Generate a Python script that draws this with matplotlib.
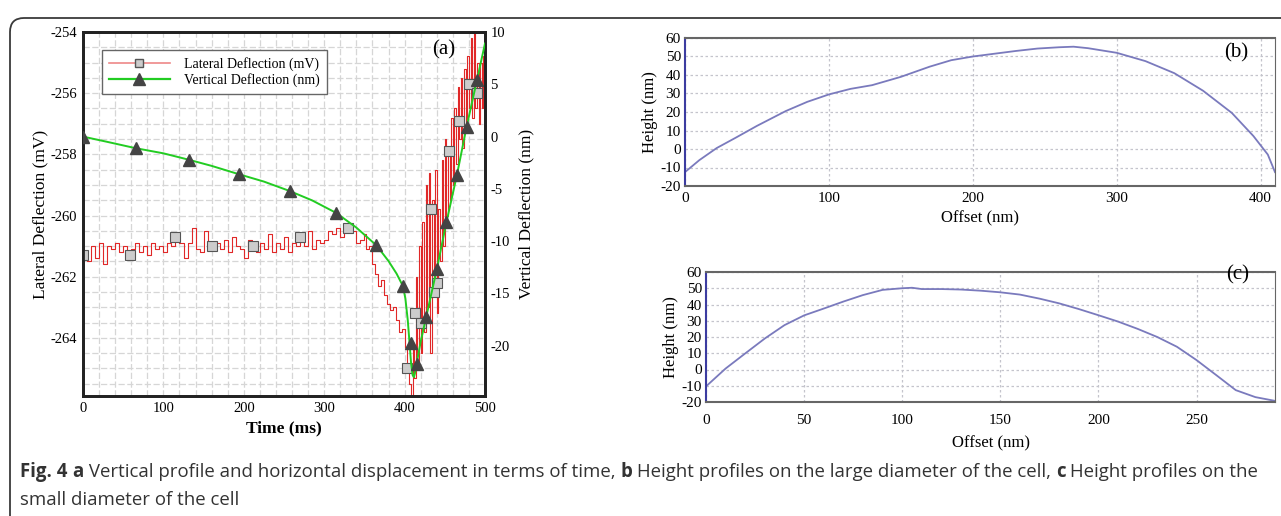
import numpy as np
import matplotlib
matplotlib.use("Agg")
import matplotlib.pyplot as plt
from matplotlib.patches import FancyBboxPatch
from matplotlib.lines import Line2D

plt.rcParams['axes.unicode_minus'] = False
SERIF = ['Liberation Serif', 'DejaVu Serif']
CAP_FONT = ['Open Sans', 'DejaVu Sans']

# ----------- PANEL (a) DATA -----------
# lateral deflection (mV): flat noisy part, step-like drop, spiky recovery
lat_t_flat = np.arange(0, 341, 5)
lat_mv_flat = [-261.3, -261.5, -261.0, -261.4, -260.9, -261.6, -261.0, -261.1, -260.9, -261.2,
               -261.0, -261.3, -261.1, -260.9, -261.2, -261.0, -261.3, -260.9, -261.1, -261.0,
               -261.2, -260.9, -261.0, -260.7, -260.9, -261.4, -260.9, -260.4, -261.1, -261.2,
               -260.5, -261.1, -261.0, -260.9, -261.1, -260.8, -261.2, -260.7, -261.0, -261.1,
               -261.4, -260.8, -261.0, -261.2, -260.9, -261.1, -260.6, -261.2, -260.9, -261.1,
               -260.7, -261.2, -260.9, -261.0, -260.7, -261.0, -260.5, -261.1, -260.8, -260.9,
               -260.8, -260.5, -260.6, -260.4, -260.7, -260.5, -260.4, -260.5, -260.9]
lat_t_drop = [345, 349, 352, 356, 360, 363, 367, 371, 374, 378, 382, 386, 389, 393, 397, 400, 403, 406]
lat_mv_drop = [-260.8, -260.6, -261.1, -261.0, -261.6, -261.9, -262.3, -262.1, -262.6, -262.9,
               -263.1, -263.0, -263.4, -263.8, -263.7, -264.3, -265.0, -265.5]
lat_t_rise = np.arange(408, 501, 2)
lat_mv_rise = [-265.9, -264.2, -265.3, -262.0, -264.8, -261.0, -264.5, -260.2, -263.8, -259.0,
               -263.0, -258.6, -264.5, -259.5, -262.0, -258.5, -263.2, -259.8, -261.5, -258.2,
               -261.0, -257.5, -260.0, -257.8, -259.5, -256.8, -259.0, -256.5, -258.3, -255.8,
               -257.5, -255.5, -257.8, -255.2, -257.0, -254.8, -256.5, -254.2, -256.8, -254.0,
               -256.5, -255.0, -257.0, -255.0, -256.5, -254.8, -255.5]

lat_mk_t = [0, 58, 115, 161, 211, 270, 330, 403, 413, 420, 433, 436, 440, 455, 468, 480, 490]
lat_mk_mv = [-261.3, -261.3, -260.7, -261.0, -261.0, -260.7, -260.4, -265.0, -263.2, -263.5,
             -259.8, -262.5, -262.2, -257.9, -256.9, -255.7, -256.0]

# vertical deflection (nm)
vert_t = [0, 30, 65, 100, 131, 160, 194, 225, 257, 285, 315, 340, 365, 380, 390, 398,
          401, 404, 406, 408, 410, 411.5, 413, 415, 420, 427, 440, 452, 465, 477, 490, 500]
vert_nm = [0, -0.5, -1.1, -1.6, -2.2, -2.8, -3.6, -4.3, -5.2, -6.1, -7.3, -8.7, -10.4, -11.9,
           -13.1, -14.3, -15.5, -17.6, -19.6, -21.6, -22.8, -23.0, -22.6, -21.7, -19.6, -17.2,
           -12.7, -8.2, -3.7, 0.9, 5.4, 8.9]
vert_mk_t = [0, 66, 132, 194, 257, 315, 365, 398, 408, 415, 427, 440, 452, 465, 477, 490]
vert_mk_nm = [0, -1.1, -2.2, -3.6, -5.2, -7.3, -10.4, -14.3, -19.7, -21.7, -17.2, -12.7,
              -8.2, -3.7, 0.9, 5.4]

# ----------- PANEL (b) / (c) DATA -----------
b_offset = [0, 10, 22, 35, 50, 70, 85, 100, 115, 130, 150, 170, 185, 200, 215, 230, 245,
            260, 270, 280, 300, 320, 340, 360, 380, 395, 405, 410]
b_height = [-12.5, -6, 0.5, 6, 12.5, 20.5, 25.5, 29.5, 32.5, 34.5, 39, 44.5, 48, 50, 51.5,
            53, 54.3, 55, 55.3, 54.5, 52, 47.5, 41, 31.5, 19.5, 7, -3, -12.5]

c_offset = [0, 10, 20, 30, 40, 50, 60, 70, 80, 90, 100, 105, 110, 120, 130, 140, 150, 160,
            170, 180, 190, 200, 210, 220, 230, 240, 250, 260, 270, 280, 290]
c_height = [-10.4, 0.6, 9.9, 19.1, 27.3, 33.3, 37.5, 41.8, 45.8, 49.0, 50.0, 50.3, 49.5,
            49.5, 49.2, 48.5, 47.5, 46.1, 43.6, 40.7, 37.2, 33.4, 29.5, 25.0, 20.0, 14.0,
            5.8, -3.4, -12.7, -17.0, -19.3]

caption_l1 = [("Fig. 4 ", "bold"), ("a", "bold"),
              (" Vertical profile and horizontal displacement in terms of time, ", "normal"),
              ("b", "bold"), (" Height profiles on the large diameter of the cell, ", "normal"),
              ("c", "bold"), (" Height profiles on the", "normal")]
caption_l2 = "small diameter of the cell"

# ----------- FIGURE -----------
W, H = 1281, 516
fig = plt.figure(figsize=(W / 100, H / 100), dpi=100)

def px_axes(x0, y0, x1, y1):
    return fig.add_axes([x0 / W, 1 - y1 / H, (x1 - x0) / W, (y1 - y0) / H])

# outer rounded frame
frame = FancyBboxPatch((0.10, -1.0), 14.0, (H - 18) / 100 + 1.0,
                       boxstyle="round,pad=0,rounding_size=0.14",
                       transform=fig.dpi_scale_trans, fc="none", ec="#3a3a3a", lw=1.3)
fig.patches.append(frame)

# ---- (a) ----
ax = px_axes(83, 32, 485, 396)
ax.set_xlim(0, 500)
ax.set_ylim(-265.9, -254)
ax.set_xticks(np.arange(0, 501, 100))
ax.set_xticks(np.arange(0, 501, 20), minor=True)
ax.set_yticks(np.arange(-264, -253, 2))
ax.set_yticks(np.arange(-265.5, -253.9, 0.5), minor=True)
ax.grid(True, which="both", color="#d6d6d6", lw=0.9, ls=(0, (5, 2)))
ax.set_axisbelow(True)

lat_t = np.concatenate([lat_t_flat, lat_t_drop, lat_t_rise])
lat_mv = np.concatenate([lat_mv_flat, lat_mv_drop, lat_mv_rise])
ax.plot(lat_t, lat_mv, color="#e02828", lw=0.8, drawstyle="steps-post", zorder=2)
ax.plot(lat_mk_t, lat_mk_mv, ls="none", marker="s", ms=7, mfc="#cccccc", mec="#555555",
        mew=0.8, zorder=4)

ax2 = ax.twinx()
ax2.set_ylim(-24.8, 10)
ax2.set_yticks(np.arange(-20, 11, 5))
ax2.plot(vert_t, vert_nm, color="#22cc22", lw=1.4, zorder=3)
ax2.plot(vert_mk_t, vert_mk_nm, ls="none", marker="^", ms=9, mfc="#444444", mec="#444444",
         zorder=5)

for a in (ax, ax2):
    for s in a.spines.values():
        s.set_linewidth(2.0)
        s.set_color("#222222")
    a.tick_params(which="both", length=0, labelsize=10.5, pad=4)
    for lb in a.get_xticklabels() + a.get_yticklabels():
        lb.set_family(SERIF)

ax.set_xlabel("Time (ms)", family=SERIF, fontsize=12.5, fontweight="bold", labelpad=4)
ax.set_ylabel("Lateral Deflection (mV)", family=SERIF, fontsize=12.5, labelpad=2)
ax2.set_ylabel("Vertical Deflection (nm)", family=SERIF, fontsize=12.5, labelpad=6)
ax.text(0.898, 0.95, "(a)", transform=ax.transAxes, family=SERIF, fontsize=15,
        ha="center", va="center")

handles = [Line2D([], [], color="#ee8888", lw=1.2, marker="s", ms=6, mfc="#cccccc",
                  mec="#555555"),
           Line2D([], [], color="#22cc22", lw=1.6, marker="^", ms=8, mfc="#444444",
                  mec="#444444")]
leg = ax.legend(handles, ["Lateral Deflection (mV)", "Vertical Deflection (nm)"],
                loc="upper left", bbox_to_anchor=(0.047, 0.951), borderaxespad=0,
                handlelength=4.4, prop={"family": SERIF, "size": 10}, fancybox=False,
                framealpha=1, edgecolor="#666666", borderpad=0.5, labelspacing=0.15,
                handletextpad=1.0)
leg.get_frame().set_linewidth(1.0)
leg.set_zorder(10)

# ---- (b), (c) ----
def profile_axes(axp, xs, ys, xlim, xticks, tag, xpad, lpad, tag_y):
    axp.plot(xs, ys, color="#7a7abd", lw=1.3)
    axp.set_xlim(*xlim)
    axp.set_ylim(-20, 60)
    axp.set_xticks(xticks)
    axp.set_yticks(np.arange(-20, 61, 10))
    axp.grid(True, color="#c4c4cc", lw=0.9, ls=(0, (2, 2)))
    axp.tick_params(length=0, labelsize=11, pad=3)
    axp.tick_params(axis="x", pad=xpad)
    for lb in axp.get_xticklabels() + axp.get_yticklabels():
        lb.set_family(SERIF)
    for k, s in axp.spines.items():
        s.set_linewidth(1.5)
        s.set_color("#3c3ca0" if k == "left" else "#666666")
    axp.spines["right"].set_linewidth(0.8)
    axp.set_xlabel("Offset (nm)", family=SERIF, fontsize=12, labelpad=lpad)
    axp.set_ylabel("Height (nm)", family=SERIF, fontsize=12, labelpad=2)
    axp.text(0.935, tag_y, tag, transform=axp.transAxes,
             family=SERIF, fontsize=15, ha="center", va="center")

axb = px_axes(685, 38, 1275, 186)
profile_axes(axb, b_offset, b_height, (0, 410), np.arange(0, 401, 100), "(b)", 4, 4, 0.9)
axc = px_axes(706, 272, 1275, 402)
profile_axes(axc, c_offset, c_height, (0, 290), np.arange(0, 251, 50), "(c)", 9, 6, 0.98)

# ---- caption ----
fig.canvas.draw()
renderer = fig.canvas.get_renderer()
x = 20 / W
for txt, wt in caption_l1:
    t = fig.text(x, 1 - 472 / H, txt, fontsize=13.4, fontweight=wt, family=CAP_FONT,
                 color="#333333", va="center", ha="left")
    bb = t.get_window_extent(renderer)
    x = bb.x1 / W
fig.text(20 / W, 1 - 500 / H, caption_l2, fontsize=13.4, family=CAP_FONT, color="#333333",
         va="center", ha="left")

fig.savefig("out.png", dpi=100)
